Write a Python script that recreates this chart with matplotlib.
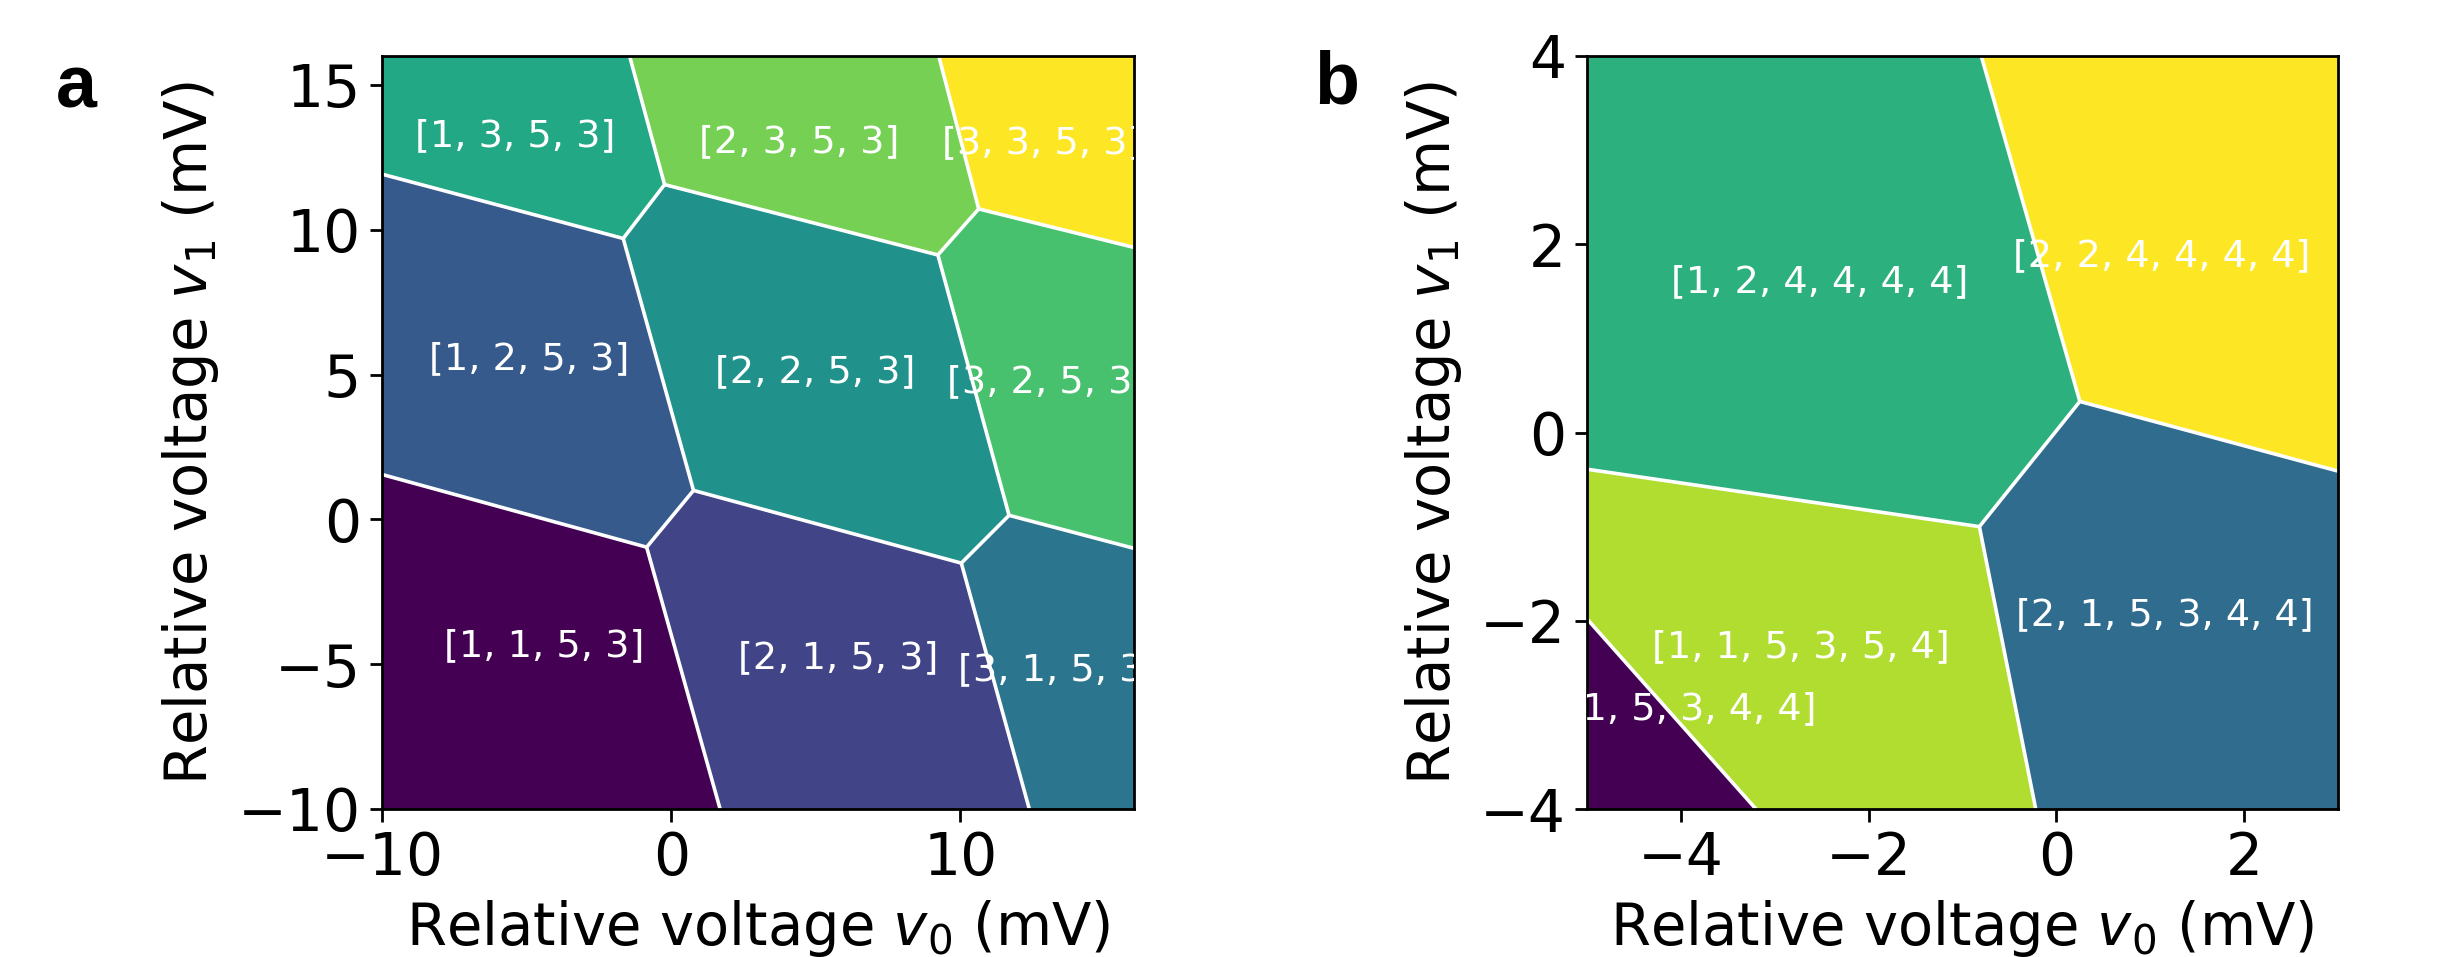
import matplotlib
matplotlib.use('Agg')
import matplotlib.pyplot as plt
from matplotlib.collections import PolyCollection, LineCollection

# panel a, corners of the charge regions (v0, v1 in mV)
a_poly_1_3 = [(-10, 16), (-1.44, 16), (-0.23, 11.56), (-1.66, 9.70), (-10, 11.92)]
a_poly_2_3 = [(-1.44, 16), (9.25, 16), (10.63, 10.72), (9.22, 9.13), (-0.23, 11.56)]
a_poly_3_3 = [(9.25, 16), (16, 16), (16, 9.39), (10.63, 10.72)]
a_poly_1_2 = [(-10, 11.92), (-1.66, 9.70), (0.77, 1.00), (-0.85, -0.96), (-10, 1.55)]
a_poly_2_2 = [(-1.66, 9.70), (-0.23, 11.56), (9.22, 9.13), (11.68, 0.14), (10.03, -1.51), (0.77, 1.00)]
a_poly_3_2 = [(9.22, 9.13), (10.63, 10.72), (16, 9.39), (16, -1.00), (11.68, 0.14)]
a_poly_1_1 = [(-10, 1.55), (-0.85, -0.96), (1.69, -10), (-10, -10)]
a_poly_2_1 = [(-0.85, -0.96), (0.77, 1.00), (10.03, -1.51), (12.38, -10), (1.69, -10)]
a_poly_3_1 = [(10.03, -1.51), (11.68, 0.14), (16, -1.00), (16, -10), (12.38, -10)]
a_polys = [a_poly_1_3, a_poly_2_3, a_poly_3_3, a_poly_1_2, a_poly_2_2, a_poly_3_2,
           a_poly_1_1, a_poly_2_1, a_poly_3_1]
a_levels = [0.60, 0.79, 1.0, 0.28, 0.50, 0.71, 0.0, 0.20, 0.39]
a_labels = ['[1, 3, 5, 3]', '[2, 3, 5, 3]', '[3, 3, 5, 3]',
            '[1, 2, 5, 3]', '[2, 2, 5, 3]', '[3, 2, 5, 3]',
            '[1, 1, 5, 3]', '[2, 1, 5, 3]', '[3, 1, 5, 3]']
a_label_x = [-8.86, 0.97, 9.36, -8.38, 1.53, 9.55, -7.84, 2.31, 9.93]
a_label_y = [13.24, 13.01, 12.99, 5.54, 5.07, 4.73, -4.39, -4.79, -5.19]
a_walls = [[(-10, 11.92), (-1.66, 9.70), (-0.23, 11.56), (-1.44, 16)],
           [(-0.23, 11.56), (9.22, 9.13), (10.63, 10.72), (9.25, 16)],
           [(10.63, 10.72), (16, 9.39)],
           [(-1.66, 9.70), (0.77, 1.00), (-0.85, -0.96), (-10, 1.55)],
           [(-0.85, -0.96), (1.69, -10)],
           [(0.77, 1.00), (10.03, -1.51), (11.68, 0.14), (9.22, 9.13)],
           [(11.68, 0.14), (16, -1.00)],
           [(10.03, -1.51), (12.38, -10)]]

# panel b
b_poly_top_left = [(-5, 4), (-0.80, 4), (0.25, 0.33), (-0.82, -1.00), (-5, -0.39)]
b_poly_top_right = [(-0.80, 4), (3, 4), (3, -0.41), (0.25, 0.33)]
b_poly_bottom_right = [(-0.82, -1.00), (0.25, 0.33), (3, -0.41), (3, -4), (-0.22, -4)]
b_poly_bottom_mid = [(-5, -0.39), (-0.82, -1.00), (-0.22, -4), (-3.20, -4), (-5, -1.98)]
b_poly_corner = [(-5, -1.98), (-3.20, -4), (-5, -4)]
b_polys = [b_poly_top_left, b_poly_top_right, b_poly_bottom_right, b_poly_bottom_mid, b_poly_corner]
b_levels = [0.64, 1.0, 0.35, 0.88, 0.0]
b_labels = ['[1, 2, 4, 4, 4, 4]', '[2, 2, 4, 4, 4, 4]', '[2, 1, 5, 3, 4, 4]',
            '[1, 1, 5, 3, 5, 4]', '[0, 1, 5, 3, 4, 4]']
b_label_x = [-4.11, -0.46, -0.43, -4.31, -5.72]
b_label_y = [1.60, 1.87, -1.94, -2.28, -2.94]
b_walls = [[(-5, -0.39), (-0.82, -1.00), (0.25, 0.33), (-0.80, 4)],
           [(0.25, 0.33), (3, -0.41)],
           [(-0.82, -1.00), (-0.22, -4)],
           [(-5, -1.98), (-3.20, -4)]]

W, H = 2447, 957


def panel(box, polys, levels, walls, labels, lx, ly, xlim, ylim, xticks, yticks):
    ax = fig.add_axes([box[0] / W, 1 - box[3] / H, (box[2] - box[0]) / W, (box[3] - box[1]) / H])
    pc = PolyCollection(polys, array=levels, cmap='viridis', edgecolors='face', linewidths=0.5)
    pc.set_clim(0, 1)
    ax.add_collection(pc)
    ax.add_collection(LineCollection(walls, colors='white', linewidths=2.6))
    for s, x, y in zip(labels, lx, ly):
        ax.text(x, y, s, color='white', fontsize=27.5, ha='left', va='center', clip_on=True)
    ax.set_xlim(xlim)
    ax.set_ylim(ylim)
    ax.set_xticks(xticks)
    ax.set_yticks(yticks)
    ax.tick_params(labelsize=42, length=9, width=2, pad=6)
    for sp in ax.spines.values():
        sp.set_linewidth(2)
    ax.set_xlabel(r'Relative voltage $v_0$ (mV)', fontsize=41.5, labelpad=8)
    ax.set_ylabel(r'Relative voltage $v_1$ (mV)', fontsize=41.5, labelpad=12)
    return ax


fig = plt.figure(figsize=(W / 100, H / 100), dpi=100)

panel((382, 56, 1134, 809), a_polys, a_levels, a_walls, a_labels, a_label_x, a_label_y,
      (-10, 16), (-10, 16), [-10, 0, 10], [-10, -5, 0, 5, 10, 15])
panel((1587, 56, 2338, 809), b_polys, b_levels, b_walls, b_labels, b_label_x, b_label_y,
      (-5, 3), (-4, 4), [-4, -2, 0, 2], [-4, -2, 0, 2, 4])

fig.text(56 / W, 1 - 107 / H, 'a', fontsize=53, fontweight='bold', family='Liberation Sans', va='baseline')
fig.text(1314 / W, 1 - 104 / H, 'b', fontsize=53, fontweight='bold', family='Liberation Sans', va='baseline')

fig.savefig('out.png', dpi=100)
